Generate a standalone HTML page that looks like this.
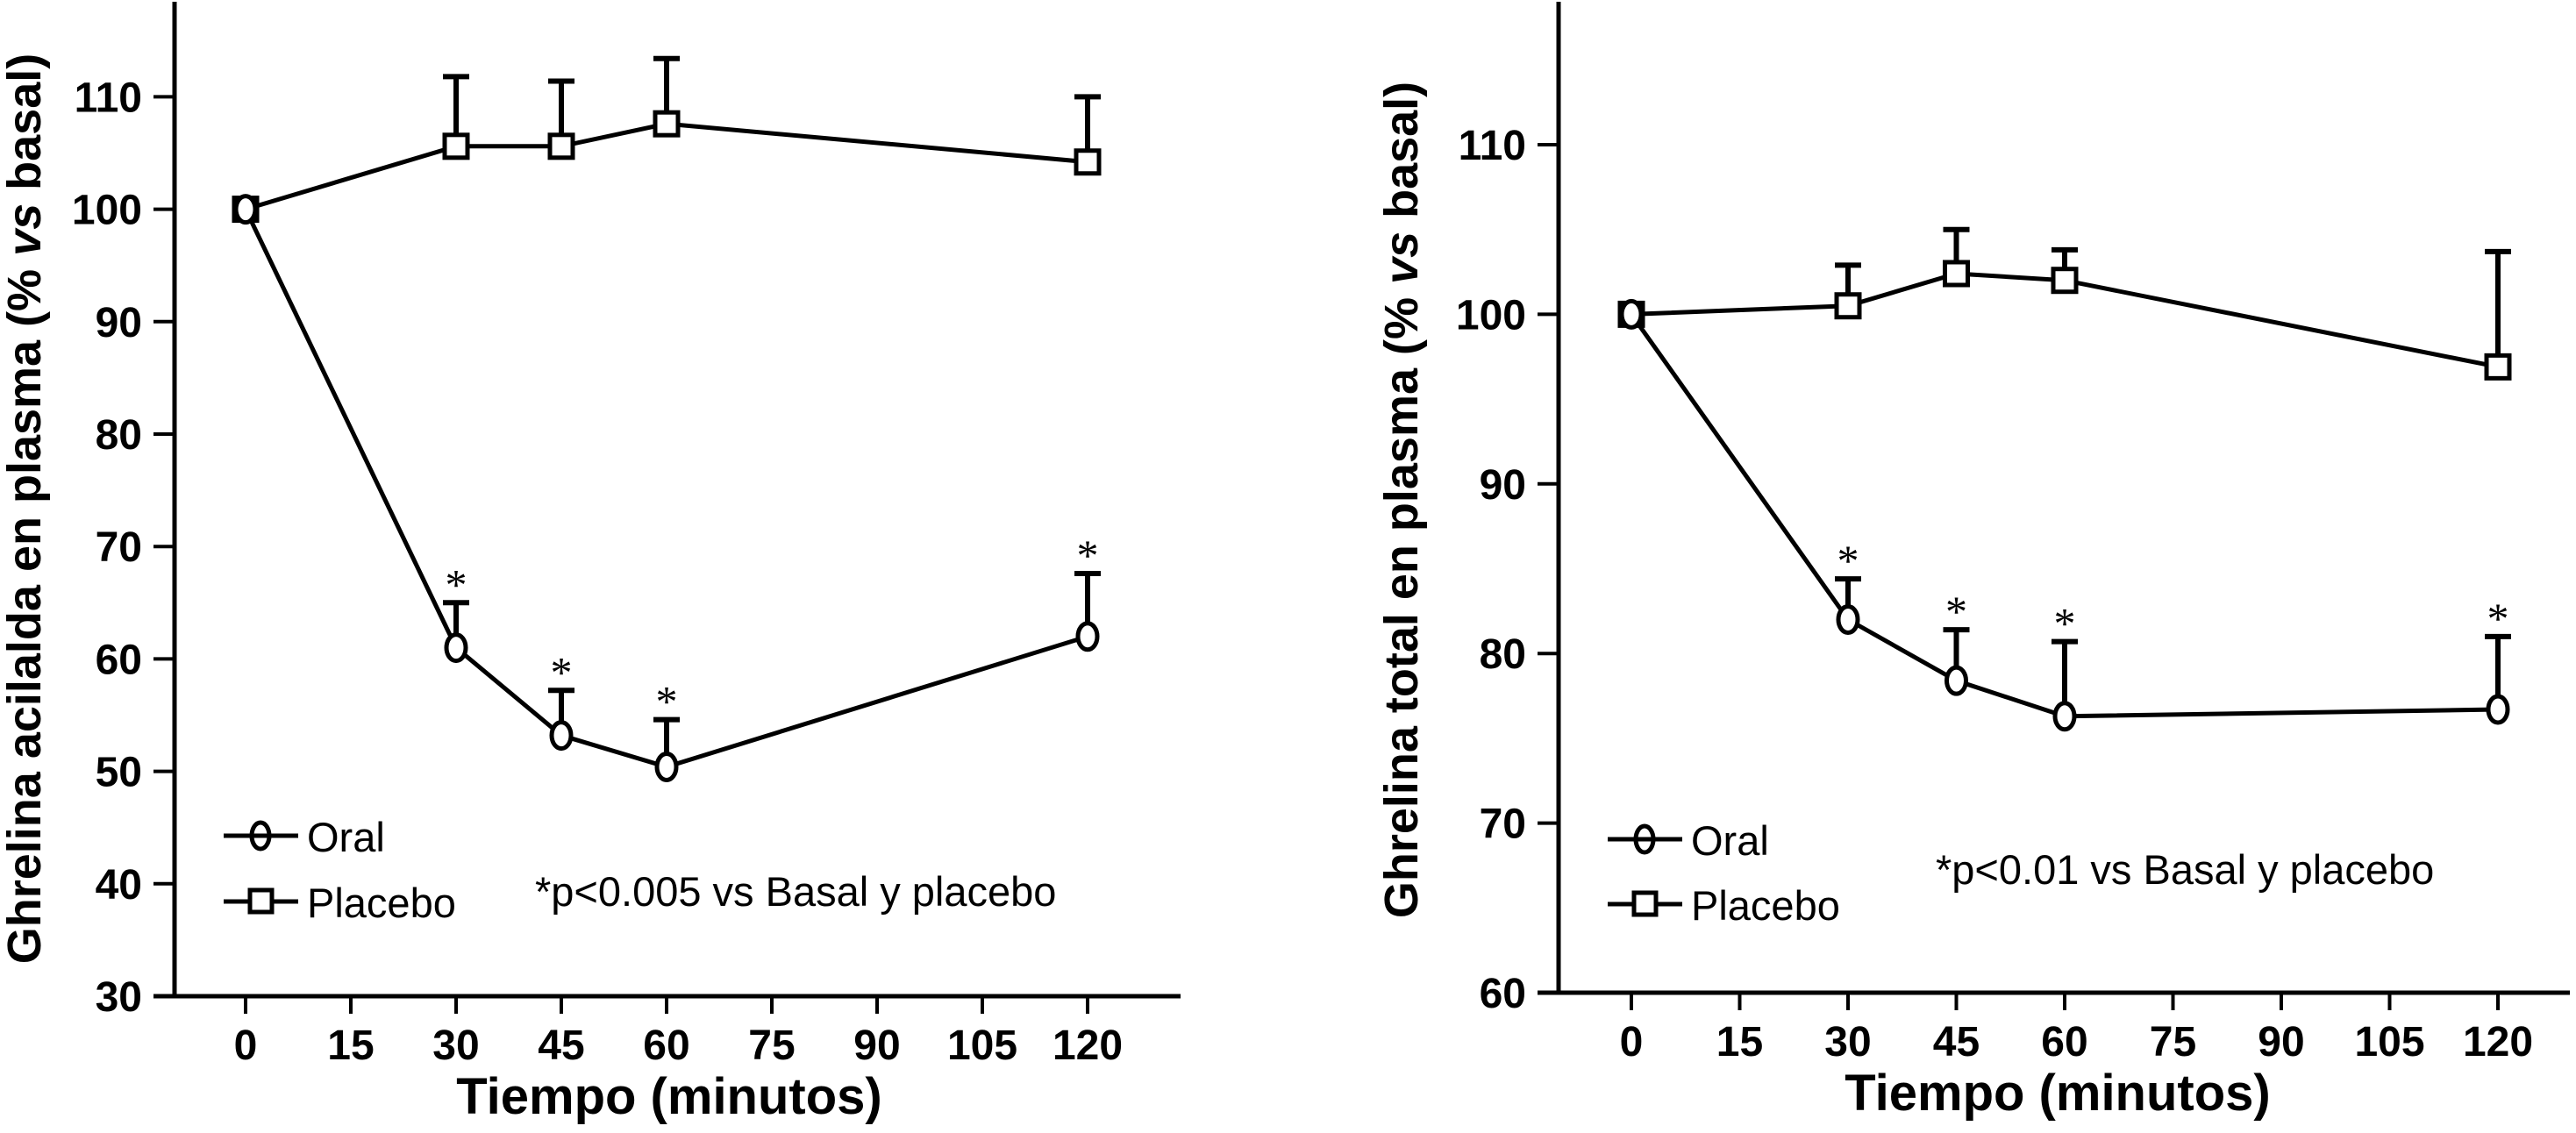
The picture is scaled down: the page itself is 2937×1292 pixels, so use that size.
<!DOCTYPE html>
<html><head><meta charset="utf-8"><style>
html,body{margin:0;padding:0;background:#fff;}
svg{display:block;font-family:"Liberation Sans",Arial,sans-serif;}
</style></head><body>
<svg id="chart" width="2937" height="1292" viewBox="0 0 2937 1292" xmlns="http://www.w3.org/2000/svg"></svg>
<script>
const times = [0, 30, 45, 60, 120];
const xTicks = [0, 15, 30, 45, 60, 75, 90, 105, 120];
const leftYTicks = [30, 40, 50, 60, 70, 80, 90, 100, 110];
const leftPlacebo = [100, 105.6, 105.6, 107.6, 104.2];
const leftPlaceboErr = [null, 111.8, 111.4, 113.4, 110.0];
const leftOral = [100, 61.0, 53.2, 50.4, 62.0];
const leftOralErr = [null, 65.0, 57.2, 54.6, 67.6];
const rightYTicks = [60, 70, 80, 90, 100, 110];
const rightPlacebo = [100, 100.5, 102.4, 102.0, 96.9];
const rightPlaceboErr = [null, 102.9, 105.0, 103.8, 103.7];
const rightOral = [100, 82.0, 78.4, 76.3, 76.7];
const rightOralErr = [null, 84.4, 81.4, 80.7, 81.0];

const NS = "http://www.w3.org/2000/svg";
const svg = document.getElementById('chart');
function mk(tag, attrs, parent, text) {
  const e = document.createElementNS(NS, tag);
  for (const k in attrs) e.setAttribute(k, attrs[k]);
  if (text !== undefined) e.textContent = text;
  (parent || svg).appendChild(e);
  return e;
}

function panel(cfg) {
  const g = mk('g', {});
  
  
  const X = t => cfg.x0 + (t - 0) * cfg.xPer15 / 15;
  const Y = v => cfg.yBase - (v - cfg.yMin) * cfg.yPer10 / 10;
  const ya = mk('line', {x1: cfg.ax, y1: 2, x2: cfg.ax, y2: cfg.yBase + 2, stroke: '#000', 'stroke-width': 5}, g);
  
  
  const xa = mk('line', {x1: cfg.ax - 24, y1: cfg.yBase, x2: cfg.xEnd, y2: cfg.yBase, stroke: '#000', 'stroke-width': 5}, g);
  
  
  cfg.yTicks.forEach(v => {
    const t = mk('line', {x1: cfg.ax - 24, y1: Y(v), x2: cfg.ax, y2: Y(v), stroke: '#000', 'stroke-width': 4}, g);
    
    
    const l = mk('text', {x: cfg.ylabX, y: Y(v) + 17, 'text-anchor': 'end', 'font-size': 48, 'font-weight': 'bold'}, g, String(v));
    
    
  });
  xTicks.forEach(t => {
    const tk = mk('line', {x1: X(t), y1: cfg.yBase, x2: X(t), y2: cfg.yBase + 20, stroke: '#000', 'stroke-width': 4}, g);
    
    
    const l = mk('text', {x: X(t), y: cfg.yBase + 72, 'text-anchor': 'middle', 'font-size': 48, 'font-weight': 'bold'}, g, String(t));
    
    
  });
  const xt = mk('text', {x: cfg.xtX, y: cfg.yBase + 134, 'text-anchor': 'middle', 'font-size': 58, 'font-weight': 'bold'}, g, 'Tiempo (minutos)');
  
  
  const yt = mk('text', {x: 0, y: 0, 'text-anchor': 'middle', 'font-size': 54, 'font-weight': 'bold', transform: `translate(${cfg.ytX},${cfg.ytY}) rotate(-90)`}, g);
  
  
  mk('tspan', {}, yt, cfg.ytitle + ' (% ');
  mk('tspan', {'font-style': 'italic'}, yt, 'vs');
  mk('tspan', {}, yt, ' basal)');

  function series(vals, errs, kind, nm) {
    const pts = vals.map((v, i) => X(times[i]) + ',' + Y(v)).join(' ');
    const pl = mk('polyline', {points: pts, fill: 'none', stroke: '#000', 'stroke-width': 5}, g);
    
    
    vals.forEach((v, i) => {
      const cx = X(times[i]), cy = Y(v);
      if (errs[i] !== null) {
        const ey = Y(errs[i]);
        const eb = mk('path', {d: `M${cx},${cy} L${cx},${ey} M${cx - 15},${ey} L${cx + 15},${ey}`, stroke: '#000', 'stroke-width': 6, fill: 'none'}, g);
        
        
        if (kind === 'circle') {
          const a = mk('text', {x: cx, y: ey - 4, 'text-anchor': 'middle', 'font-size': 50, 'font-family': '"Liberation Serif", serif'}, g, '*');
          
          
        }
      }
      let m;
      if (kind === 'circle') m = mk('ellipse', {cx, cy, rx: 11, ry: 15, fill: '#fff', stroke: '#000', 'stroke-width': 5}, g);
      else m = mk('rect', {x: cx - 13, y: cy - 13, width: 26, height: 26, fill: '#fff', stroke: '#000', 'stroke-width': 5}, g);
      
      
    });
  }
  series(cfg.placebo, cfg.placeboErr, 'square', 'placebo');
  series(cfg.oral, cfg.oralErr, 'circle', 'oral');

  const lg = mk('g', {}, g);
  
  
  const lx = cfg.legX;
  [['Oral', 'circle', cfg.legY1], ['Placebo', 'square', cfg.legY2]].forEach(([lab, kind, ly]) => {
    const e = mk('g', {}, lg);
    
    
    mk('line', {x1: lx, y1: ly, x2: lx + 85, y2: ly, stroke: '#000', 'stroke-width': 5}, e);
    if (kind === 'circle') mk('ellipse', {cx: lx + 42, cy: ly, rx: 10, ry: 15, fill: 'none', stroke: '#000', 'stroke-width': 5}, e);
    else mk('rect', {x: lx + 30, y: ly - 13, width: 25, height: 25, fill: '#fff', stroke: '#000', 'stroke-width': 5}, e);
    mk('text', {x: lx + 95, y: ly + 18, 'font-size': 47}, e, lab);
  });
  const an = mk('text', {x: cfg.annX, y: cfg.annY, 'font-size': 47}, g, cfg.ann);
  
  
}

panel({name: 'acylated-ghrelin-chart', ax: 199, x0: 280, xPer15: 120, xEnd: 1346,
  yBase: 1136, yMin: 30, yPer10: 128.2, yTicks: leftYTicks, ylabX: 162,
  xtX: 763, ytX: 46, ytY: 580, ytitle: 'Ghrelina acilalda en plasma',
  placebo: leftPlacebo, placeboErr: leftPlaceboErr, oral: leftOral, oralErr: leftOralErr,
  legX: 255, legY1: 953, legY2: 1028, annX: 610, annY: 1033, ann: '*p<0.005 vs Basal y placebo'});

panel({name: 'total-ghrelin-chart', ax: 1777, x0: 1860, xPer15: 123.5, xEnd: 2930,
  yBase: 1132, yMin: 60, yPer10: 193.4, yTicks: rightYTicks, ylabX: 1740,
  xtX: 2346, ytX: 1616, ytY: 570, ytitle: 'Ghrelina total en plasma',
  placebo: rightPlacebo, placeboErr: rightPlaceboErr, oral: rightOral, oralErr: rightOralErr,
  legX: 1833, legY1: 957, legY2: 1031, annX: 2207, annY: 1008, ann: '*p<0.01 vs Basal y placebo'});
</script>
</body></html>
